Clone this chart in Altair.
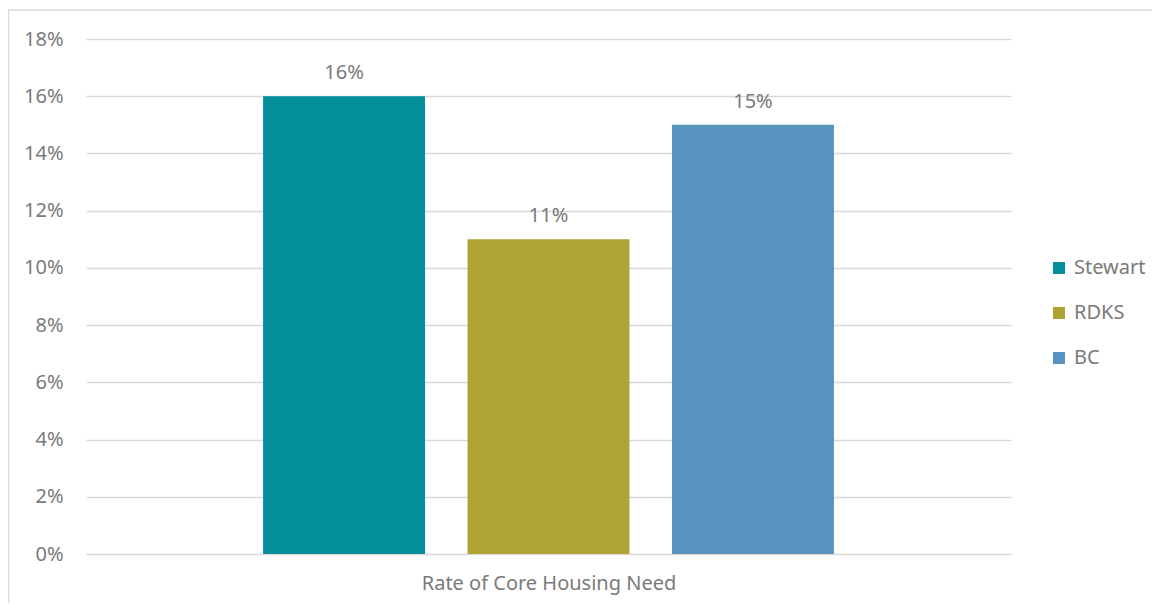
import altair as alt
import pandas as pd

series = ["Stewart", "RDKS", "BC"]
values = [16, 11, 15]
labels = ["16%", "11%", "15%"]
colors = ["#058F9A", "#AFA333", "#5893BF"]
category = "Rate of Core Housing Need"
y_ticks = [0, 2, 4, 6, 8, 10, 12, 14, 16, 18]

df = pd.DataFrame({"series": series, "value": values, "label": labels})

FONT = "Noto Sans"
GREY = "#7A7A7A"
FS = 20

x_enc = alt.X(
    "series:N",
    sort=series,
    scale=alt.Scale(paddingInner=0.208, paddingOuter=0.866),
    axis=alt.Axis(labels=False, ticks=False, domain=False, title=category,
                  titleFont=FONT, titleFontSize=FS, titleFontWeight="normal",
                  titleColor=GREY, titlePadding=19),
)
y_enc = alt.Y(
    "value:Q",
    scale=alt.Scale(domain=[0, 18], nice=False),
    axis=alt.Axis(values=y_ticks, labelExpr="datum.value + '%'", title=None,
                  domain=False, ticks=False, gridColor="#D9D9D9", gridWidth=1.5,
                  labelFont=FONT, labelFontSize=FS, labelColor=GREY, labelPadding=23),
)

bars = alt.Chart(df).mark_bar().encode(
    x=x_enc,
    y=y_enc,
    color=alt.Color(
        "series:N",
        sort=series,
        scale=alt.Scale(domain=series, range=colors),
        legend=alt.Legend(
            title=None, orient="none", legendX=963, legendY=219,
            symbolType="square", symbolSize=144, symbolStrokeWidth=0,
            labelFont=FONT, labelFontSize=FS, labelColor=GREY,
            rowPadding=25, labelOffset=5,
        ),
    ),
)

text = alt.Chart(df).mark_text(
    font=FONT, fontSize=FS, color=GREY, dy=-17, baseline="alphabetic"
).encode(x=alt.X("series:N", sort=series), y="value:Q", text="label:N")

border = alt.Chart(pd.DataFrame({"a": [0]})).mark_rect(
    fill=None, stroke="#D9D9D9", strokeWidth=1.5
).encode(
    x=alt.value(-77.5), x2=alt.value(1200), y=alt.value(-29), y2=alt.value(700)
)

chart = alt.layer(border, bars, text).properties(
    width=925, height=515,
    background="white",
    autosize=alt.AutoSizeParams(type="none"),
    padding={"left": 78, "top": 31, "right": 141, "bottom": 49},
).configure_view(stroke=None, strokeWidth=0)

chart.save("out.html", embed_options={"renderer": "svg", "actions": False})
